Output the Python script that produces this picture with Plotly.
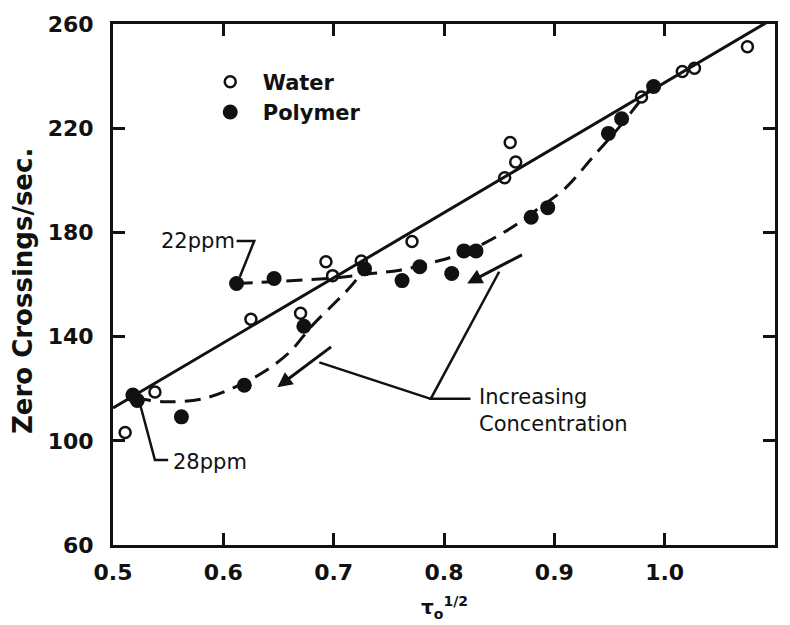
import plotly.graph_objects as go

# ---- data ----
water_x = [0.511, 0.538, 0.625, 0.670, 0.693, 0.699, 0.725, 0.771, 0.855, 0.860, 0.865, 0.979, 1.016, 1.027, 1.075]
water_y = [103.2, 118.7, 146.7, 149.0, 168.7, 163.4, 169.0, 176.5, 201.0, 214.5, 207.0, 232.0, 241.8, 243.0, 251.3]

polymer_x = [0.518, 0.522, 0.562, 0.619, 0.673, 0.612, 0.646, 0.728, 0.762, 0.778, 0.807, 0.818, 0.829, 0.879, 0.894, 0.949, 0.961, 0.990]
polymer_y = [117.6, 115.5, 109.2, 121.3, 144.0, 160.4, 162.3, 166.0, 161.5, 166.8, 164.2, 172.9, 172.9, 185.8, 189.5, 218.0, 223.6, 236.0]

fit_x = [0.50, 1.092]
fit_y = [112.6, 260.5]

ppm22_x = [0.612, 0.65, 0.70, 0.73, 0.76, 0.79, 0.81, 0.835, 0.86, 0.885, 0.91, 0.935, 0.96, 0.975, 0.99]
ppm22_y = [160.4, 161.2, 162.5, 164.0, 165.5, 168.5, 171.0, 175.5, 181.5, 189.0, 197.0, 209.0, 221.0, 229.0, 237.0]

ppm28_x = [0.52, 0.545, 0.58, 0.61, 0.635, 0.66, 0.68, 0.70, 0.715, 0.728]
ppm28_y = [116.5, 115.0, 116.0, 120.5, 126.0, 134.0, 144.0, 152.5, 159.0, 166.0]

x_ticks = [0.5, 0.6, 0.7, 0.8, 0.9, 1.0, 1.1]
x_tick_labels = ["0.5", "0.6", "0.7", "0.8", "0.9", "1.0", "1.1"]
y_ticks = [60, 100, 140, 180, 220, 260]
y_tick_labels = ["60", "100", "140", "180", "220", "260"]

INK = "#111111"
FONT = "DejaVu Sans"

fig = go.Figure()

fig.add_trace(go.Scatter(x=fit_x, y=fit_y, mode="lines", showlegend=False,
                         line=dict(color=INK, width=3)))
fig.add_trace(go.Scatter(x=ppm22_x, y=ppm22_y, mode="lines", showlegend=False,
                         line=dict(color=INK, width=3, dash="16px,9px"), line_shape="spline"))
fig.add_trace(go.Scatter(x=ppm28_x, y=ppm28_y, mode="lines", showlegend=False,
                         line=dict(color=INK, width=3, dash="16px,9px"), line_shape="spline"))

fig.add_trace(go.Scatter(x=water_x, y=water_y, mode="markers", name="Water",
                         marker=dict(symbol="circle-open", size=11, color=INK, line=dict(width=2.5, color=INK))))
fig.add_trace(go.Scatter(x=polymer_x, y=polymer_y, mode="markers", name="Polymer",
                         marker=dict(symbol="circle", size=15, color=INK)))

line_style = dict(color=INK, width=2.5)
# pointer lines
fig.add_shape(type="path", xref="x", yref="y", line=line_style,
              path="M 0.612 176.7 L 0.628 176.7 L 0.615 163")
fig.add_shape(type="path", xref="x", yref="y", line=line_style,
              path="M 0.524 114.9 L 0.538 92.6 L 0.550 92.6")
fig.add_shape(type="path", xref="x", yref="y", line=line_style,
              path="M 0.824 116.1 L 0.788 116.1 L 0.850 164.9 M 0.788 116.1 L 0.687 130.1")

# arrows
for hx, hy, tx, ty in [(0.649, 120.6, 0.699, 136.5), (0.821, 160.4, 0.872, 171.7)]:
    fig.add_annotation(x=hx, y=hy, ax=tx, ay=ty, xref="x", yref="y", axref="x", ayref="y",
                       text="", showarrow=True, arrowhead=2, arrowsize=1, arrowwidth=3, arrowcolor=INK)

txt = dict(family=FONT, size=21, color=INK)
fig.add_annotation(x=0.612, y=176.7, xref="x", yref="y", text="22ppm", showarrow=False,
                   xanchor="right", font=txt)
fig.add_annotation(x=0.553, y=92.0, xref="x", yref="y", text="28ppm", showarrow=False,
                   xanchor="left", font=txt)
fig.add_annotation(x=0.830, y=116.1, xref="x", yref="y", text="Increasing<br>Concentration",
                   showarrow=False, xanchor="left", yanchor="top", align="left", yshift=16,
                   font=dict(family=FONT, size=21, color=INK))

# axis titles
fig.add_annotation(x=-0.137, y=0.488, xref="paper", yref="paper", text="Zero Crossings/sec.",
                   textangle=-90, showarrow=False, xanchor="center", yanchor="middle",
                   font=dict(family=FONT, size=26, color=INK, weight="bold"))
fig.add_annotation(x=0.5, y=-0.12, xref="paper", yref="paper", text="τ<sub>o</sub><sup>1/2</sup>",
                   showarrow=False, xanchor="center", yanchor="middle",
                   font=dict(family=FONT, size=20, color=INK, weight="bold"))

axis_common = dict(showline=True, linewidth=3, linecolor=INK, mirror="ticks",
                   ticks="inside", ticklen=12, tickwidth=3, tickcolor=INK,
                   showgrid=False, zeroline=False,
                   tickfont=dict(family=FONT, size=22, color=INK, weight="bold"))

fig.update_xaxes(range=[0.5, 1.1], tickvals=x_ticks, ticktext=x_tick_labels,
                 ticklabelstandoff=6, **axis_common)
fig.update_yaxes(range=[60, 260], tickvals=y_ticks, ticktext=y_tick_labels,
                 ticklabelstandoff=12, **axis_common)

fig.update_layout(
    width=790, height=625,
    margin=dict(l=113, r=13, t=17, b=80),
    paper_bgcolor="white", plot_bgcolor="white",
    legend=dict(x=0.128, y=0.928, xanchor="left", yanchor="top",
                bgcolor="rgba(0,0,0,0)", font=dict(family=FONT, size=21, color=INK, weight="bold"),
                tracegroupgap=0, itemwidth=55),
)

fig.write_html("out.html")
